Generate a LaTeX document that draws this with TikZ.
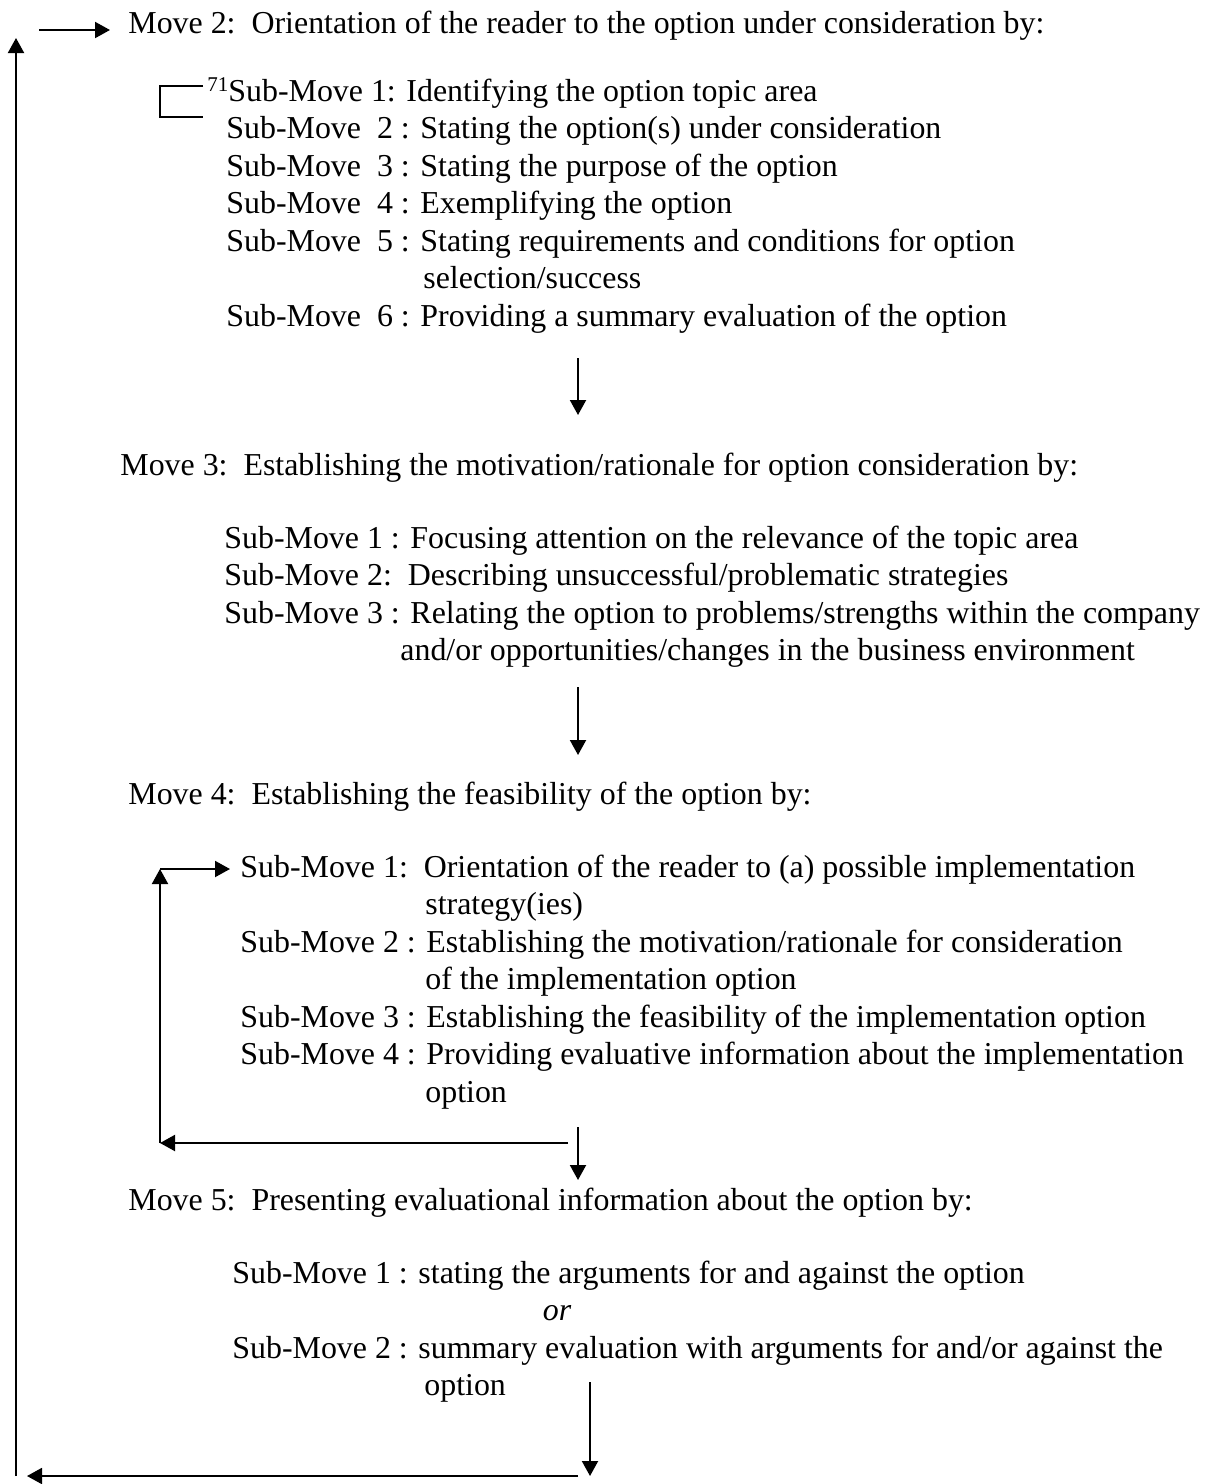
\documentclass[tikz,border=0pt]{standalone}
\usepackage{fontspec}
\setmainfont{Liberation Serif}
\usetikzlibrary{arrows.meta}
\begin{document}
\begin{tikzpicture}[x=0.5pt,y=-0.5pt,
  txt/.style={anchor=base west, inner sep=0pt, font=\fontsize{15.95pt}{18.75pt}\selectfont},
  wire/.style={line width=1pt},
  arr/.style={wire, -{Triangle[length=7.5pt,width=8pt]}}]
\useasboundingbox (0,0) rectangle (1211,1484);

% ---------- Move 2 ----------
\node[txt] (m2) at (128,33) {Move 2:\ \ Orientation of the reader to the option under consideration by:};
\node[txt] (m2s1) at (207,101) {\raisebox{5pt}{\fontsize{10.5pt}{10.5pt}\selectfont 71}Sub-Move 1: Identifying the option topic area};
\node[txt] (m2s2) at (226,138.5) {Sub-Move\ \ 2 : Stating the option(s) under consideration};
\node[txt] (m2s3) at (226,176) {Sub-Move\ \ 3 : Stating the purpose of the option};
\node[txt] (m2s4) at (226,213.5) {Sub-Move\ \ 4 : Exemplifying the option};
\node[txt] (m2s5) at (226,251) {Sub-Move\ \ 5 : Stating requirements and conditions for option};
\node[txt] (m2s5b) at (423,288.5) {selection/success};
\node[txt] (m2s6) at (226,326) {Sub-Move\ \ 6 : Providing a summary evaluation of the option};

% ---------- Move 3 ----------
\node[txt] (m3) at (120,475) {Move 3:\ \ Establishing the motivation/rationale for option consideration by:};
\node[txt] (m3s1) at (224,548) {Sub-Move 1 : Focusing attention on the relevance of the topic area};
\node[txt] (m3s2) at (224,585.5) {Sub-Move 2:\ \ Describing unsuccessful/problematic strategies};
\node[txt] (m3s3) at (224,623) {Sub-Move 3 : Relating the option to problems/strengths within the company};
\node[txt] (m3s3b) at (400,660.5) {and/or opportunities/changes in the business environment};

% ---------- Move 4 ----------
\node[txt] (m4) at (128,804) {Move 4:\ \ Establishing the feasibility of the option by:};
\node[txt] (m4s1) at (240,877) {Sub-Move 1:\ \ Orientation of the reader to (a) possible implementation};
\node[txt] (m4s1b) at (425,914.5) {strategy(ies)};
\node[txt] (m4s2) at (240,952) {Sub-Move 2 : Establishing the motivation/rationale for consideration};
\node[txt] (m4s2b) at (425,989.5) {of the implementation option};
\node[txt] (m4s3) at (240,1027) {Sub-Move 3 : Establishing the feasibility of the implementation option};
\node[txt] (m4s4) at (240,1064.5) {Sub-Move 4 : Providing evaluative information about the implementation};
\node[txt] (m4s4b) at (425,1102) {option};

% ---------- Move 5 ----------
\node[txt] (m5) at (128,1210) {Move 5:\ \ Presenting evaluational information about the option by:};
\node[txt] (m5s1) at (232,1283) {Sub-Move 1 : stating the arguments for and against the option};
\node[txt, anchor=base] (m5or) at (557,1320.5) {\itshape or};
\node[txt] (m5s2) at (232,1358) {Sub-Move 2 : summary evaluation with arguments for and/or against the};
\node[txt] (m5s2b) at (424,1395.5) {option};

% ---------- connector points ----------
\coordinate (top0) at (39,30);     \coordinate (top1) at (110,30);
\coordinate (left0) at (16,1476);  \coordinate (left1) at (16,38);
\coordinate (br0) at (203,86);     \coordinate (br1) at (160,86);
\coordinate (br2) at (160,117);    \coordinate (br3) at (203,117);
\coordinate (d1a) at (578,358);    \coordinate (d1b) at (578,415);
\coordinate (d2a) at (578,687);    \coordinate (d2b) at (578,755);
\coordinate (lp0) at (568,1143);   \coordinate (lp1) at (160,1143);
\coordinate (lp2) at (160,869);    \coordinate (lp3) at (230,869);
\coordinate (d3a) at (578,1127);   \coordinate (d3b) at (578,1180);
\coordinate (d4a) at (590,1382);   \coordinate (d4b) at (590,1476);
\coordinate (bt0) at (578,1476);   \coordinate (bt1) at (27,1476);

% bracket joining the first two sub-moves
\draw[wire] (br0) -- (br1) -- (br2) -- (br3);

% flow between the moves
\draw[arr] (d1a) -- (d1b);
\draw[arr] (d2a) -- (d2b);
\draw[arr] (d3a) -- (d3b);
\draw[arr] (d4a) -- (d4b);

% recursion inside Move 4
\draw[arr] (lp0) -- (lp1);
\draw[arr] (lp1) -- (lp2);
\draw[arr] (lp2) -- (lp3);

% return loop back to Move 2
\draw[arr] (bt0) -- (bt1);
\draw[arr] (left0) -- (left1);
\draw[arr] (top0) -- (top1);
\end{tikzpicture}
\end{document}
